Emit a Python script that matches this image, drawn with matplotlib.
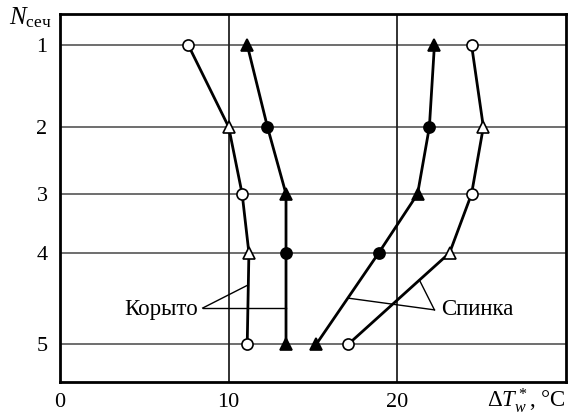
import numpy as np
import matplotlib
matplotlib.use("Agg")
import matplotlib.pyplot as plt

plt.rcParams['font.family'] = ['Liberation Serif', 'DejaVu Serif']
plt.rcParams['mathtext.fontset'] = 'custom'
plt.rcParams['mathtext.rm'] = 'Liberation Serif'
plt.rcParams['mathtext.it'] = 'Liberation Serif:italic'

# sections along the blade height (relative), top section first
sections = ['1', '2', '3', '4', '5']
section_h = [0.916, 0.693, 0.511, 0.351, 0.103]

# temperature rise dT_w*, deg C
trough_open = [7.6, 10.0, 10.8, 11.2, 11.1]
trough_filled = [11.1, 12.3, 13.4, 13.4, 13.4]
back_filled = [22.2, 21.9, 21.2, 18.9, 15.2]
back_open = [24.4, 25.1, 24.4, 23.1, 17.1]

x_ticks = [0, 10, 20]


def draw_series(ax, values, filled, odd_marker, even_marker):
    ax.plot(values, section_h, color='black', lw=2.0, zorder=3)
    face = 'black' if filled else 'white'
    for i, (x, h) in enumerate(zip(values, section_h)):
        m = odd_marker if i % 2 == 0 else even_marker
        ax.plot(x, h, marker=m, ms=8, mfc=face, mec='black', mew=1.2,
                ls='none', zorder=4)


def on_line(values, h):
    return np.interp(h, section_h[::-1], values[::-1])


fig = plt.figure(figsize=(5.7, 4.19), dpi=100)
ax = fig.add_axes([60 / 570, 1 - 382 / 419, 506 / 570, 368 / 419])

ax.set_xlim(0, 30)
ax.set_ylim(0, 1)

for h in section_h:
    ax.axhline(h, color='#555555', lw=1.2, zorder=1)
for x in x_ticks[1:]:
    ax.axvline(x, color='#222222', lw=1.3, zorder=1)

draw_series(ax, trough_open, False, 'o', '^')
draw_series(ax, trough_filled, True, '^', 'o')
draw_series(ax, back_filled, True, '^', 'o')
draw_series(ax, back_open, False, 'o', '^')

# leader lines to the pressure side (Корыто) curves
src = (8.46, 0.201)
for vals, h in [(trough_open, 0.264), (trough_filled, 0.201)]:
    ax.plot([src[0], on_line(vals, h)], [src[1], h], color='black', lw=1.0, zorder=2)
ax.text(8.2, 0.198, 'Корыто', ha='right', va='center', fontsize=16.5)

# leader lines to the suction side (Спинка) curves
src = (22.2, 0.196)
for vals, h in [(back_filled, 0.228), (back_open, 0.277)]:
    ax.plot([src[0], on_line(vals, h)], [src[1], h], color='black', lw=1.0, zorder=2)
ax.text(22.6, 0.198, 'Спинка', ha='left', va='center', fontsize=16.5)

ax.set_xticks(x_ticks)
ax.set_xticklabels([str(t) for t in x_ticks])
ax.set_yticks(section_h)
ax.set_yticklabels(sections)
ax.tick_params(length=0, labelsize=16)
ax.tick_params(axis='x', pad=8)
ax.tick_params(axis='y', pad=9)
for s in ax.spines.values():
    s.set_linewidth(2.0)

fig.text(52 / 570, 1 - 24 / 419, r'$N_{\mathrm{сеч}}$', ha='right',
         va='baseline', fontsize=18)
fig.text(566 / 570, 1 - 407 / 419, r'$\Delta T_w^*$, °C', ha='right',
         va='baseline', fontsize=16.5)

fig.savefig('out.png', dpi=100)
